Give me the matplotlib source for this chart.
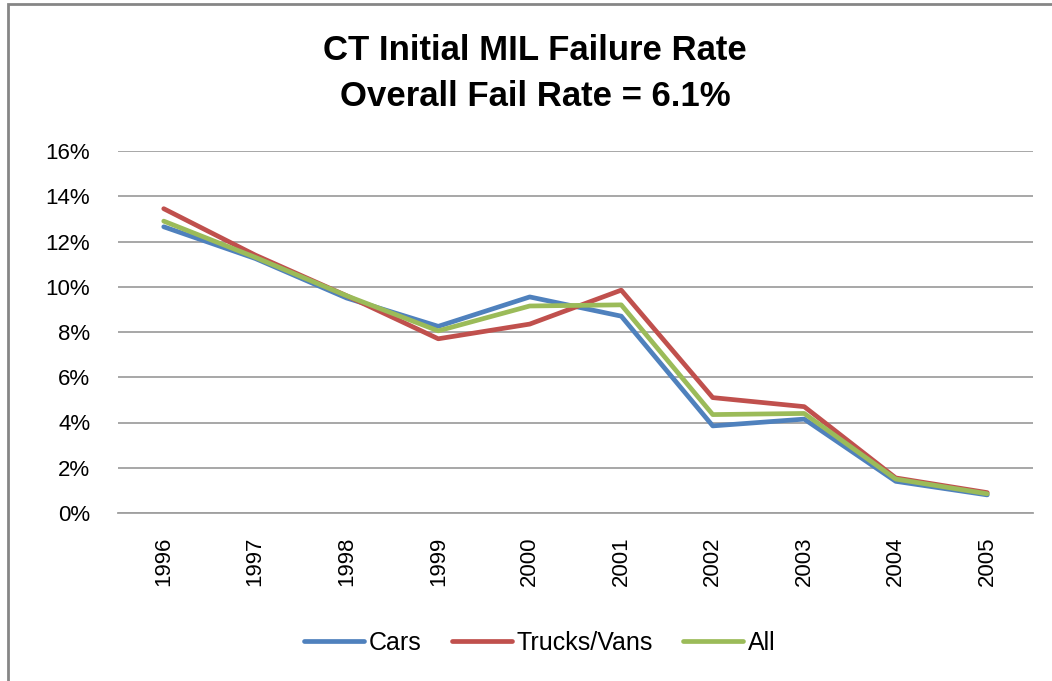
import matplotlib.pyplot as plt
from matplotlib.patches import Rectangle
from matplotlib.ticker import FuncFormatter

# Данные
years = ["1996", "1997", "1998", "1999", "2000", "2001", "2002", "2003", "2004", "2005"]
cars = [12.65, 11.25, 9.5, 8.25, 9.55, 8.7, 3.85, 4.15, 1.4, 0.8]
trucks = [13.45, 11.4, 9.6, 7.7, 8.35, 9.85, 5.1, 4.7, 1.55, 0.9]
all_veh = [12.9, 11.3, 9.6, 8.05, 9.15, 9.2, 4.35, 4.4, 1.5, 0.85]

plt.rcParams['font.family'] = ['Liberation Sans', 'DejaVu Sans']

W, H = 1052, 681
fig = plt.figure(figsize=(W / 100, H / 100), dpi=100)

# рамка вокруг диаграммы
fig.patches.append(Rectangle((8 / W, -0.1), 1.2, (H - 4) / H + 0.1,
                             transform=fig.transFigure, fill=False,
                             edgecolor="#868686", linewidth=2))

ax = fig.add_axes([118 / W, (H - 513) / H, (1033 - 118) / W, (513 - 151) / H])

x = range(len(years))
ax.plot(x, cars, color="#4F81BD", linewidth=3.4, label="Cars", solid_capstyle="round")
ax.plot(x, trucks, color="#C0504D", linewidth=3.4, label="Trucks/Vans", solid_capstyle="round")
ax.plot(x, all_veh, color="#9BBB59", linewidth=3.4, label="All", solid_capstyle="round")

ax.set_xlim(-0.5, len(years) - 0.5)
ax.set_ylim(0, 16)
ax.set_yticks(range(0, 17, 2))
ax.yaxis.set_major_formatter(FuncFormatter(lambda v, p: f"{v:.0f}%"))
ax.set_xticks(list(x))
ax.set_xticklabels(years, rotation=90, fontsize=16)
ax.tick_params(axis="y", length=0, pad=20, labelsize=16)
ax.tick_params(axis="x", length=0, pad=17)
ax.grid(axis="y", color="#A0A0A0", linewidth=1.3)
ax.set_axisbelow(True)
for s in ["left", "right", "top"]:
    ax.spines[s].set_visible(False)
ax.spines["bottom"].set_color("#A0A0A0")
ax.spines["bottom"].set_linewidth(1.3)

fig.text(535 / W, 1 - 50 / H, "CT Initial MIL Failure Rate", ha="center", va="center",
         fontsize=25, fontweight="bold")
fig.text(535 / W, 1 - 97 / H, "Overall Fail Rate = 6.1%", ha="center", va="center",
         fontsize=25, fontweight="bold")

fig.legend(loc="center", bbox_to_anchor=(540 / W, 1 - 643 / H), ncol=3, frameon=False,
           fontsize=18, handlelength=2.4, handletextpad=0.2, columnspacing=1.2)

fig.savefig("out.png", dpi=100)
